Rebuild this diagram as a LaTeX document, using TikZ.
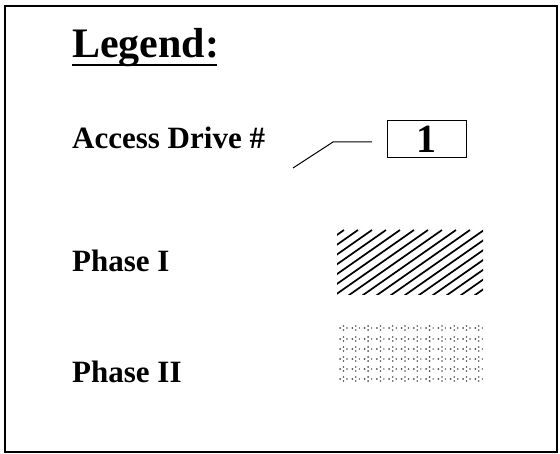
\documentclass[tikz,border=0pt]{standalone}
\usepackage{fontspec}
\setmainfont{Liberation Serif}
\usetikzlibrary{positioning}

\begin{document}
\begin{tikzpicture}[
  x=1pt, y=-1pt,
  label/.style={anchor=base west, inner sep=0pt, font=\bfseries\fontsize{31}{34}\selectfont},
  frame/.style={draw, line width=1.6pt},
  swatch/.style={line width=1.7pt},
  dotmark/.style={fill=black!70},
]
  \useasboundingbox (0,0) rectangle (560,454);
  \draw[frame] (5,6) rectangle (557,452);

  % title
  \node[label, font=\bfseries\fontsize{42}{46}\selectfont] (title) at (72,58) {Legend:};
  \draw[line width=1.6pt] (72,65) -- (217,65);

  % access drive
  \node[label] (drive) at (72,149) {Access Drive \#};
  \node[draw, line width=1pt, minimum width=79pt, minimum height=37pt, inner sep=0pt,
        font=\bfseries\fontsize{40}{42}\selectfont] (num) at (426.5,139.5) {1};
  \coordinate (lead) at (293,168);
  \draw[line width=1pt] (lead) -- (333,142) -- (372,142);

  % phase I
  \node[label] (ph1) at (72,272) {Phase I};
  \begin{scope}
    \clip (337,228) rectangle (483,295);
    \foreach \i in {-8,...,14}
      \draw[swatch] (300+\i*14,300) -- ++(100,-70);
  \end{scope}

  % phase II
  \node[label] (ph2) at (72,383) {Phase II};
  \foreach \c in {0,...,11}
    \foreach \r/\yy in {0/328,1/339,2/349,3/359,4/369,5/379} {
      \fill[dotmark] (340+\c*12.3,\yy) circle (1);
      \fill[dotmark] (343.5+\c*12.3,\yy-2) circle (0.9);
      \fill[dotmark] (343.5+\c*12.3,\yy+2) circle (0.9);
      \fill[dotmark] (347+\c*12.3,\yy) circle (0.8);
    }
\end{tikzpicture}
\end{document}
